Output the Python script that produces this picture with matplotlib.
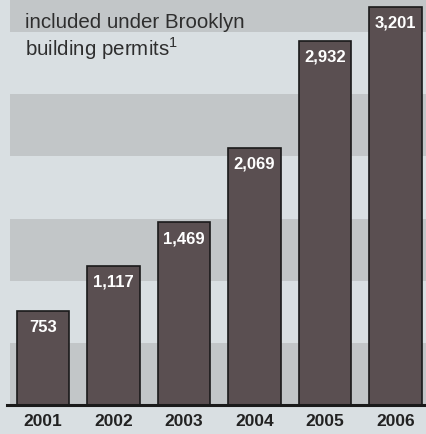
import matplotlib.pyplot as plt

# data
years = ['2001', '2002', '2003', '2004', '2005', '2006']
units = [753, 1117, 1469, 2069, 2932, 3201]
value_labels = ['753', '1,117', '1,469', '2,069', '2,932', '3,201']
title_lines = ['Number of new apartments', 'included under Brooklyn', 'building permits$^{\\mathregular{1}}$']

# colours
bg = '#d9dfe2'
band = '#c2c6c8'
bar_col = '#5a4f51'
fam = ['Liberation Sans Narrow', 'Liberation Sans']

fig = plt.figure(figsize=(4.27, 4.34), dpi=100)
fig.patch.set_facecolor(bg)
ax = fig.add_axes([0, 0, 1, 1])
ax.set_facecolor(bg)
ax.set_xlim(-0.61, 5.447)
ax.set_ylim(-233, 3258)
ax.axis('off')

# a. horizontal background bands every 500 units
for lo in range(0, 3500, 1000):
    ax.axhspan(lo, lo + 500, xmin=0.023, xmax=1, color=band, lw=0, zorder=0)

# b. bars
x = range(len(years))
ax.bar(x, units, width=0.74, color=bar_col, edgecolor='#1a1a1a', linewidth=1.2, zorder=2)

# c. baseline
ax.axhline(0, xmin=0.016, xmax=1, color='#1a1a1a', lw=2.2, zorder=3)

# d. labels
for i, (v, lab) in enumerate(zip(units, value_labels)):
    ax.text(i, v - 130, lab, ha='center', va='center', color='white',
            fontsize=12, fontweight='bold', family=fam, zorder=4)
    ax.text(i, -130, years[i], ha='center', va='center', color='#222222',
            fontsize=12.5, fontweight='bold', family=fam)

# e. title text, first line runs off the top
title_y = [-13, 22, 49]
for line, ty in zip(title_lines, title_y):
    fig.text(25 / 427, 1 - ty / 434, line, ha='left', va='center',
             color='#2e2e2e', fontsize=14.8, family=fam)

fig.savefig('out.png', dpi=100, facecolor=bg)
